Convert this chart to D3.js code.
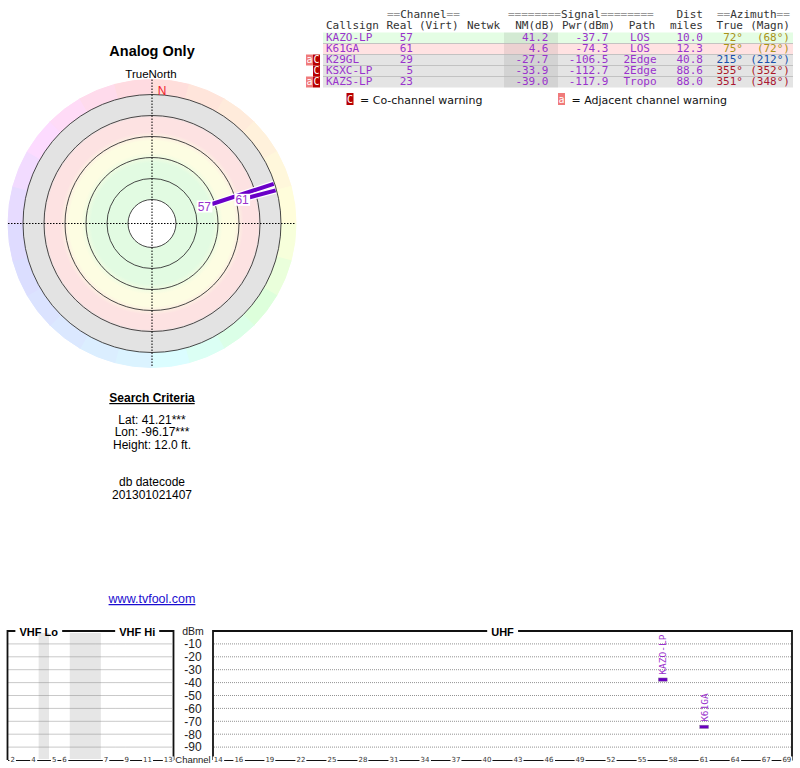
<!DOCTYPE html>
<html>
<head>
<meta charset="utf-8">
<script src="https://cdn.jsdelivr.net/npm/d3@7"></script>
<style>
body { margin: 0; background: #fff; }
svg { display: block; font-family: "Liberation Sans", Arial, sans-serif; }
.mono, .mono text { font-family: "DejaVu Sans Mono", monospace; }
</style>
</head>
<body>
<svg id="chart" width="800" height="768"></svg>
<script>
// station table
const callsigns = ["KAZO-LP", "K61GA", "K29GL", "KSXC-LP", "KAZS-LP"];
const realCh = [57, 61, 29, 5, 23];
const nmDb = [41.2, 4.6, -27.7, -33.9, -39.0];
const pwrDbm = [-37.7, -74.3, -106.5, -112.7, -117.9];
const paths = ["LOS", "LOS", "2Edge", "2Edge", "Tropo"];
const distMi = [10.0, 12.3, 40.8, 88.6, 88.0];
const azTrue = [72, 75, 215, 355, 351];
const azMagn = [68, 72, 212, 352, 348];
const warnings = ["", "", "aC", "C", "aC"];

// bottom spectrum chart
const vhfSlots = ["2", "3", "4", "g1", "5", "6", "g2", "g3", "g4", "7", "8", "9", "10", "11", "12", "13"];
const vhfGaps = [["g1", "g1"], ["g2", "g4"]];
const vhfTicks = ["2", "4", "5", "6", "7", "9", "11", "13"];
const uhfChannels = d3.range(14, 70);
const uhfTicks = [14, 16, 19, 22, 25, 28, 31, 34, 37, 40, 43, 46, 49, 52, 55, 58, 61, 64, 67, 69];
const dbTicks = [-10, -20, -30, -40, -50, -60, -70, -80, -90];

const searchLines = ["Lat: 41.21***", "Lon: -96.17***", "Height: 12.0 ft."];
const dateLines = ["db datecode", "201301021407"];

const stations = callsigns.map((c, i) => ({
    call: c, ch: realCh[i], nm: nmDb[i], pwr: pwrDbm[i], path: paths[i],
    dist: distMi[i], az: azTrue[i], mag: azMagn[i], warn: warnings[i]
}));

const svg = d3.select("#chart");
const purple = "#9932cc";

// bearing -> hue, the ring and azimuth colours follow it
const hue = d3.scaleLinear().domain([0, 90, 180, 270, 360]).range([0, 62, 195, 250, 360]);

// ---------------- polar plot ----------------
const cx = 152, cy = 223.5;
const ringR = [24, 45, 66, 87, 108, 129];
const outerR = 144;
const rScale = d3.scaleLinear().domain([100, -25]).range([2, 132]);

svg.append("text").attr("x", cx).attr("y", 56).attr("text-anchor", "middle")
    .attr("font-size", 14.5).attr("font-weight", "bold").text("Analog Only");
svg.append("text").attr("x", cx - 1).attr("y", 78).attr("text-anchor", "middle")
    .attr("font-size", 11.5).text("TrueNorth");

const polar = svg.append("g").attr("transform", `translate(${cx},${cy})`);

// coloured compass ring
const wedge = d3.arc().innerRadius(ringR[5]).outerRadius(outerR);
polar.selectAll("path.wedge")
    .data(d3.range(0, 360, 15))
    .join("path")
    .attr("class", "wedge")
    .attr("d", a => wedge({ startAngle: a * Math.PI / 180, endAngle: (a + 15) * Math.PI / 180 }))
    .attr("fill", a => d3.hsl(hue(a + 7.5), 1, 0.93))
    .attr("stroke", a => d3.hsl(hue(a + 7.5), 1, 0.93));

// signal bands
const grad = svg.append("defs").append("radialGradient")
    .attr("id", "bands").attr("gradientUnits", "userSpaceOnUse")
    .attr("cx", 0).attr("cy", 0).attr("r", ringR[5]);
[[0, "#e2fbe2"], [0.47, "#e2fbe2"], [0.55, "#fdfde2"], [0.64, "#fdfde2"],
 [0.71, "#fde2e2"], [0.82, "#fde2e2"], [0.845, "#e3e3e3"], [1, "#e3e3e3"]]
    .forEach(s => grad.append("stop").attr("offset", s[0]).attr("stop-color", s[1]));

polar.append("circle").attr("r", ringR[5]).attr("fill", "url(#bands)");
polar.selectAll("circle.ring")
    .data(ringR)
    .join("circle")
    .attr("class", "ring")
    .attr("r", d => d)
    .attr("fill", (d, i) => i === 0 ? "#fff" : "none")
    .attr("stroke", "#333").attr("stroke-width", 0.9);

polar.append("line").attr("x1", -outerR).attr("x2", outerR)
    .attr("stroke", "#000").attr("stroke-dasharray", "1.5,1.5");
polar.append("line").attr("y1", -outerR).attr("y2", outerR)
    .attr("stroke", "#000").attr("stroke-dasharray", "1.5,1.5");

polar.append("text").attr("x", 10).attr("y", -128.5).attr("text-anchor", "middle")
    .attr("font-size", 12).attr("fill", "#f0202a").text("N");

const pt = (az, r) => [r * Math.sin(az * Math.PI / 180), -r * Math.cos(az * Math.PI / 180)];
const shown = stations.filter(d => rScale(d.nm) < ringR[5]);

shown.forEach(d => {
    const a = pt(d.az, rScale(d.nm)), b = pt(d.az, ringR[5] - 1);
    polar.append("line").attr("x1", a[0]).attr("y1", a[1]).attr("x2", b[0]).attr("y2", b[1])
        .attr("stroke", "#fff").attr("stroke-width", 6.5);
    polar.append("line").attr("x1", a[0]).attr("y1", a[1]).attr("x2", b[0]).attr("y2", b[1])
        .attr("stroke", "#6a00c8").attr("stroke-width", 4);
});
shown.forEach(d => {
    const a = pt(d.az, rScale(d.nm));
    const t = polar.append("text").attr("x", a[0] - 1).attr("y", a[1] + 6.5)
        .attr("text-anchor", "end").attr("font-size", 12).attr("fill", purple).text(d.ch);
    const bb = t.node().getBBox();
    polar.insert("rect", () => t.node())
        .attr("x", bb.x - 1).attr("y", bb.y + 1).attr("width", bb.width + 2).attr("height", bb.height - 2)
        .attr("fill", "#fff");
});

// ---------------- search criteria ----------------
svg.append("text").attr("x", cx).attr("y", 402).attr("text-anchor", "middle")
    .attr("font-size", 12).attr("font-weight", "bold")
    .attr("text-decoration", "underline").text("Search Criteria");
svg.selectAll("text.search")
    .data(searchLines)
    .join("text")
    .attr("class", "search")
    .attr("x", cx).attr("y", (d, i) => 424 + i * 12.3)
    .attr("text-anchor", "middle").attr("font-size", 12).text(d => d);
svg.selectAll("text.date")
    .data(dateLines)
    .join("text")
    .attr("class", "date")
    .attr("x", cx).attr("y", (d, i) => 486 + i * 12.8)
    .attr("text-anchor", "middle").attr("font-size", 12).text(d => d);
svg.append("text").attr("x", cx).attr("y", 603).attr("text-anchor", "middle")
    .attr("font-size", 12.5).attr("fill", "#1a0dd0")
    .attr("text-decoration", "underline").text("www.tvfool.com");

// ---------------- station table ----------------
const tbl = svg.append("g").attr("class", "mono").attr("font-size", 11);
const rowTop = i => 32.5 + i * 11;
const rowFill = d3.scaleThreshold().domain([0, 15, 30])
    .range(["#e4e4e4", "#ffe2e2", "#fdfde0", "#e4fde4"]);

tbl.selectAll("rect.row")
    .data(stations)
    .join("rect")
    .attr("class", "row")
    .attr("x", 323).attr("y", (d, i) => rowTop(i))
    .attr("width", 470).attr("height", 11)
    .attr("fill", d => rowFill(d.nm));
tbl.append("rect").attr("x", 504).attr("y", rowTop(0)).attr("width", 54)
    .attr("height", 11 * stations.length).attr("fill", "rgba(0,0,0,0.075)");
tbl.selectAll("line.sep")
    .data(d3.range(1, stations.length))
    .join("line")
    .attr("class", "sep")
    .attr("x1", 323).attr("x2", 793)
    .attr("y1", i => rowTop(i)).attr("y2", i => rowTop(i))
    .attr("stroke", "#b8b8b8").attr("stroke-width", 0.8);

// header with gray "=" rules
function header(x, y, anchor, parts) {
    const t = tbl.append("text").attr("x", x).attr("y", y).attr("text-anchor", anchor);
    parts.forEach(p => t.append("tspan").attr("fill", p[1] ? "#999" : "#333").text(p[0]));
}
header(387, 17.5, "start", [["==", 1], ["Channel"], ["==", 1]]);
header(508, 17.5, "start", [["========", 1], ["Signal"], ["========", 1]]);
header(703, 17.5, "end", [["Dist"]]);
header(717, 17.5, "start", [["==", 1], ["Azimuth"], ["==", 1]]);
header(326, 28.5, "start", [["Callsign"]]);
header(413, 28.5, "end", [["Real"]]);
header(419, 28.5, "start", [["(Virt)"]]);
header(467, 28.5, "start", [["Netwk"]]);
header(555, 28.5, "end", [["NM(dB)"]]);
header(615, 28.5, "end", [["Pwr(dBm)"]]);
header(642, 28.5, "middle", [["Path"]]);
header(703, 28.5, "end", [["miles"]]);
header(743, 28.5, "end", [["True"]]);
header(790, 28.5, "end", [["(Magn)"]]);

const azColor = d => d3.hsl(hue(d.az), 0.75, 0.38);
const cols = [
    { x: 326, anchor: "start", val: d => d.call, col: () => purple },
    { x: 413, anchor: "end", val: d => d.ch, col: () => purple },
    { x: 548.5, anchor: "end", val: d => d.nm.toFixed(1), col: () => purple },
    { x: 608.5, anchor: "end", val: d => d.pwr.toFixed(1), col: () => purple },
    { x: 640, anchor: "middle", val: d => d.path, col: () => purple },
    { x: 703, anchor: "end", val: d => d.dist.toFixed(1), col: () => purple },
    { x: 743, anchor: "end", val: d => d.az + "°", col: azColor },
    { x: 790, anchor: "end", val: d => "(" + d.mag + "°)", col: azColor }
];
stations.forEach((d, i) => {
    cols.forEach(c => {
        tbl.append("text").attr("x", c.x).attr("y", rowTop(i) + 8.8)
            .attr("text-anchor", c.anchor).attr("fill", c.col(d)).text(c.val(d));
    });
    // warning badges
    const chars = d.warn.split("");
    chars.forEach((ch, k) => {
        const x = 320 - (chars.length - k) * 7;
        tbl.append("rect").attr("x", x).attr("y", rowTop(i)).attr("width", 7).attr("height", 11)
            .attr("fill", ch === "a" ? "#f07a7a" : "#b80000");
        tbl.append("text").attr("x", x + 3.5).attr("y", rowTop(i) + 8.5).attr("text-anchor", "middle")
            .attr("font-size", 10).attr("fill", "#fff").text(ch);
    });
});

// legend
[["C", "#b80000", 346.5, "= Co-channel warning"], ["a", "#f07a7a", 558, "= Adjacent channel warning"]]
    .forEach(l => {
        svg.append("rect").attr("x", l[2]).attr("y", 93).attr("width", 7).attr("height", 12).attr("fill", l[1]);
        svg.append("text").attr("class", "mono").attr("x", l[2] + 3.5).attr("y", 102.5)
            .attr("text-anchor", "middle").attr("font-size", 10).attr("fill", "#fff").text(l[0]);
        svg.append("text").attr("x", l[2] + 13.5).attr("y", 103.5)
            .style("font-family", "'DejaVu Sans', sans-serif").attr("font-size", 11)
            .attr("fill", "#111").text(l[3]);
    });

// ---------------- spectrum chart ----------------
const yScale = d3.scaleLinear().domain([0, -100]).range([631, 760]);
const vhfX = d3.scaleBand().domain(vhfSlots).range([7.5, 173.5]);
const uhfX = d3.scaleBand().domain(uhfChannels).range([213, 792]);
const yTop = yScale(0), yBot = yScale(-100);

const panels = [
    { x: vhfX, ticks: vhfTicks, titles: [["VHF Lo", "2", "6"], ["VHF Hi", "7", "13"]] },
    { x: uhfX, ticks: uhfTicks, titles: [["UHF", 14, 69]] }
];

// gray gaps between VHF channel groups
vhfGaps.forEach(g => {
    svg.append("rect")
        .attr("x", vhfX(g[0])).attr("y", yTop + 2)
        .attr("width", vhfX(g[1]) + vhfX.bandwidth() - vhfX(g[0]))
        .attr("height", yBot - yTop - 3)
        .attr("fill", "#e6e6e6");
});

panels.forEach(p => {
    const [x0, x1] = p.x.range();
    // dotted grid
    svg.append("g").selectAll("line")
        .data(dbTicks)
        .join("line")
        .attr("x1", x0 + 1).attr("x2", x1 - 1)
        .attr("y1", d => yScale(d)).attr("y2", d => yScale(d))
        .attr("stroke", "#777").attr("stroke-width", 0.8).attr("stroke-dasharray", "1,1");

    // frame
    svg.append("path")
        .attr("d", `M${x0},${yBot}V${yTop}H${x1}V${yBot}`)
        .attr("fill", "none").attr("stroke", "#111").attr("stroke-width", 1.8);

    // channel axis
    const ax = svg.append("g").attr("transform", `translate(0,${yBot})`)
        .call(d3.axisBottom(p.x).tickValues(p.ticks).tickSize(0).tickPadding(0));
    ax.attr("font-family", "DejaVu Sans");
    ax.select(".domain").attr("stroke", "#111").attr("stroke-width", 1.2);
    ax.selectAll("text").attr("dy", "0.35em").attr("y", 0)
        .attr("font-size", 7).attr("fill", "#333");
    ax.selectAll(".tick").each(function () {
        const t = d3.select(this).select("text");
        const bb = t.node().getBBox();
        d3.select(this).insert("rect", "text")
            .attr("x", bb.x - 1).attr("y", bb.y).attr("width", bb.width + 2).attr("height", bb.height)
            .attr("fill", "#fff");
    });

    // band titles cut into top border
    p.titles.forEach(tt => {
        const mid = (p.x(tt[1]) + p.x(tt[2]) + p.x.bandwidth()) / 2;
        const t = svg.append("text").attr("x", mid).attr("y", yTop + 4.5)
            .attr("text-anchor", "middle").attr("font-size", 11).attr("font-weight", "bold").text(tt[0]);
        const bb = t.node().getBBox();
        svg.insert("rect", () => t.node())
            .attr("x", bb.x - 4).attr("y", yTop - 2).attr("width", bb.width + 8).attr("height", 4)
            .attr("fill", "#fff");
    });
});

// dBm scale between panels
svg.append("text").attr("x", 193).attr("y", yTop + 4).attr("text-anchor", "middle")
    .attr("font-size", 10.5).attr("fill", "#222").text("dBm");
svg.selectAll("text.db")
    .data(dbTicks)
    .join("text")
    .attr("class", "db")
    .attr("x", 193).attr("y", d => yScale(d) + 4.3)
    .attr("text-anchor", "middle").attr("font-size", 12).attr("fill", "#222").text(d => d);
svg.append("text").attr("x", 193).attr("y", yBot + 3.2).attr("text-anchor", "middle")
    .attr("font-size", 9.5).attr("fill", "#222").text("Channel");

// station marks (UHF only, above the -100 floor)
const marks = stations.filter(d => d.ch >= 14 && d.pwr > -100);
marks.forEach(d => {
    const xc = uhfX(d.ch) + uhfX.bandwidth() / 2;
    const y = yScale(d.pwr);
    svg.append("rect").attr("x", xc - 4.5).attr("y", y - 1.7).attr("width", 9).attr("height", 3.4)
        .attr("fill", "#6a00c0").attr("stroke", "#999").attr("stroke-width", 0.4);
    svg.append("text").attr("class", "mono")
        .attr("transform", `translate(${xc},${y - 5}) rotate(-90)`)
        .attr("dominant-baseline", "central")
        .attr("font-size", 9.5).attr("fill", purple).text(d.call);
});
</script>
</body>
</html>
